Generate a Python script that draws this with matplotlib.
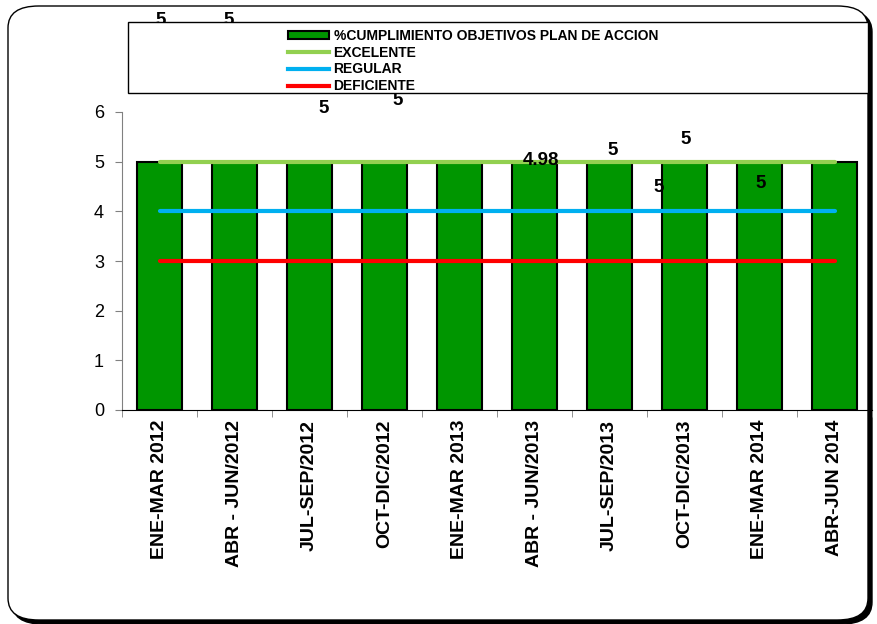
import matplotlib.pyplot as plt
from matplotlib.patches import FancyBboxPatch, Rectangle, Patch
from matplotlib.lines import Line2D

plt.rcParams['font.family'] = ['Liberation Sans', 'DejaVu Sans']

periodos = ['ENE-MAR 2012', 'ABR - JUN/2012', 'JUL-SEP/2012', 'OCT-DIC/2012',
            'ENE-MAR 2013', 'ABR - JUN/2013', 'JUL-SEP/2013', 'OCT-DIC/2013',
            'ENE-MAR 2014', 'ABR-JUN 2014']
cumplimiento = [5, 5, 5, 5, 5, 4.98, 5, 5, 5, 5]
excelente = [5] * 10
regular = [4] * 10
deficiente = [3] * 10

# etiquetas de datos movidas a mano en el original (x indice, y valor)
etiquetas = ['5', '5', '5', '5', '4.98', '5', '5', '5', '5']
etiq_x = [0.01, 0.92, 2.19, 3.17, 5.09, 6.04, 7.01, 6.65, 8.01]
etiq_y = [7.85, 7.85, 6.08, 6.24, 5.03, 5.23, 5.44, 4.47, 4.57]

fig = plt.figure(figsize=(8.77, 6.24), dpi=100)

# marco redondeado con sombra
W, H = 877, 624
sombra = FancyBboxPatch((12 / W, 1 - 624 / H), 860 / W, 614 / H,
                        boxstyle='round,pad=0,rounding_size=0.035',
                        transform=fig.transFigure, facecolor='black',
                        edgecolor='black', zorder=-2)
marco = FancyBboxPatch((8 / W, 1 - 620 / H), 860 / W, 614 / H,
                       boxstyle='round,pad=0,rounding_size=0.035',
                       transform=fig.transFigure, facecolor='white',
                       edgecolor='black', linewidth=1, zorder=-1)
fig.patches.extend([sombra, marco])

ax = fig.add_axes([122 / W, 1 - 410 / H, 750 / W, 298 / H])
ax.patch.set_alpha(0)
x = range(len(periodos))
ax.bar(x, cumplimiento, width=0.59, color='#009600', edgecolor='black',
       linewidth=1.5, zorder=2)
ax.plot(x, excelente, color='#92D050', linewidth=3, solid_capstyle='round', zorder=3)
ax.plot(x, regular, color='#00B0F0', linewidth=3, solid_capstyle='round', zorder=3)
ax.plot(x, deficiente, color='#FF0000', linewidth=3, solid_capstyle='round', zorder=3)

for t, xx, yy in zip(etiquetas, etiq_x, etiq_y):
    ax.text(xx, yy, t, ha='center', va='center', fontsize=13.5, fontweight='bold',
            clip_on=False, zorder=5)

ax.set_xlim(-0.5, 9.5)
ax.set_ylim(0, 6)
ax.set_yticks(range(7))
ax.tick_params(axis='y', labelsize=13, length=5, color='#808080', pad=8)
ax.set_xticks(list(x))
ax.set_xticklabels(periodos, rotation=90, fontsize=14, fontweight='bold')
ax.tick_params(axis='x', which='major', length=0, pad=7)
ax.set_xticks([i - 0.5 for i in range(11)], minor=True)
ax.tick_params(axis='x', which='minor', length=5, color='#808080')
ax.spines['top'].set_visible(False)
ax.spines['right'].set_visible(False)
ax.spines['left'].set_color('#808080')
ax.spines['bottom'].set_color('black')

# caja de leyenda
caja = Rectangle((128 / W, 1 - 93 / H), 740 / W, 71 / H, transform=fig.transFigure,
                 facecolor='white', edgecolor='black', linewidth=1, zorder=4)
fig.patches.append(caja)
handles = [Patch(facecolor='#009600', edgecolor='black', linewidth=1.5),
           Line2D([], [], color='#92D050', linewidth=3),
           Line2D([], [], color='#00B0F0', linewidth=3),
           Line2D([], [], color='#FF0000', linewidth=3)]
nombres = ['%CUMPLIMIENTO OBJETIVOS PLAN DE ACCION', 'EXCELENTE', 'REGULAR', 'DEFICIENTE']
leg = fig.legend(handles, nombres, loc='upper left', bbox_to_anchor=(278 / W, 1 - 19 / H),
                 frameon=False, prop={'weight': 'bold', 'size': 10},
                 handlelength=3.0, handleheight=0.5, labelspacing=0.2,
                 handletextpad=0.3, borderpad=0.2)
leg.set_zorder(6)

fig.savefig('out.png', dpi=100)
